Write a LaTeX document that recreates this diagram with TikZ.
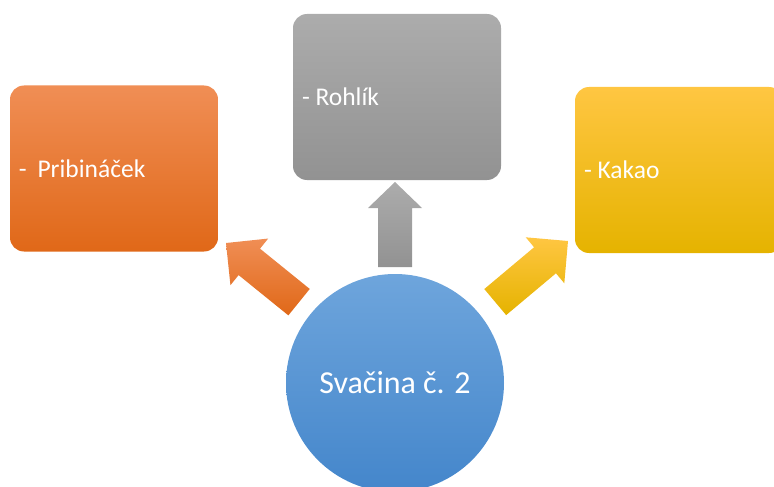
\documentclass[tikz,border=0pt]{standalone}
\usepackage{fontspec}
\setmainfont{Carlito}
\usetikzlibrary{calc}
\definecolor{orTop}{HTML}{F08E55}
\definecolor{orMid}{HTML}{F07A2A}
\definecolor{orBot}{HTML}{E06818}
\definecolor{grTop}{HTML}{ACACAC}
\definecolor{grMid}{HTML}{A0A0A0}
\definecolor{grBot}{HTML}{929292}
\definecolor{yeTop}{HTML}{FFC642}
\definecolor{yeMid}{HTML}{FFC000}
\definecolor{yeBot}{HTML}{E5B300}
\definecolor{blTop}{HTML}{6EA5DC}
\definecolor{blMid}{HTML}{5B9BD5}
\definecolor{blBot}{HTML}{4486CB}
\tikzset{
  orshade/.style={top color=orTop, middle color=orMid, bottom color=orBot},
  grshade/.style={top color=grTop, middle color=grMid, bottom color=grBot},
  yeshade/.style={top color=yeTop, middle color=yeMid, bottom color=yeBot},
  blshade/.style={top color=blTop, middle color=blMid, bottom color=blBot},
  itembox/.style={rectangle, rounded corners=14pt, minimum width=208pt, minimum height=166pt, inner sep=0pt},
  itemtext/.style={anchor=base west, inner sep=0pt, text=white, font=\fontsize{25.5}{30}\selectfont},
  hub/.style={circle, minimum size=218pt, inner sep=0pt, text=white, font=\fontsize{32}{38}\selectfont},
}
% #1 style, #2 tip coordinate, #3 angle, #4 length, #5 head length, #6 head half width
\newcommand\blockarrow[6]{%
  \path[#1] (#2)
    -- ($(#2)+({#3+180}:#5pt)+({#3+90}:#6pt)$)
    -- ($(#2)+({#3+180}:#5pt)+({#3+90}:17pt)$)
    -- ($(#2)+({#3+180}:#4pt)+({#3+90}:17pt)$)
    -- ($(#2)+({#3+180}:#4pt)+({#3-90}:17pt)$)
    -- ($(#2)+({#3+180}:#5pt)+({#3-90}:17pt)$)
    -- ($(#2)+({#3+180}:#5pt)+({#3-90}:#6pt)$)
    -- cycle;}
\begin{document}
\begin{tikzpicture}[x=1pt,y=1pt]
\useasboundingbox (0,0) rectangle (774,-487);
\clip (0,0) rectangle (774,-487);
% boxes
\node[itembox, orshade] (pbox) at (114,-168.5) {};
\node[itembox, grshade] (rbox) at (397,-97) {};
\node[itembox, yeshade] (kbox) at (679,-170) {};
\node[itemtext] (ptext) at ($(pbox.west)+(9,-8.5)$) {-\hspace{5pt} Pribináček};
\node[itemtext] (rtext) at ($(rbox.west)+(9,-8.5)$) {- Rohlík};
\node[itemtext] (ktext) at ($(kbox.west)+(9,-8.5)$) {- Kakao};
% hub
\node[hub, blshade] (hub) at (395,-383) {Svačina č. 2};
% arrows
\coordinate (tipL) at (226,-243);
\coordinate (tipT) at (395,-182);
\coordinate (tipR) at (568,-241);
\blockarrow{orshade}{tipL}{141}{94}{30}{30}
\blockarrow{grshade}{tipT}{90}{85}{26}{27}
\blockarrow{yeshade}{tipR}{40}{95}{30}{30}
\end{tikzpicture}
\end{document}
